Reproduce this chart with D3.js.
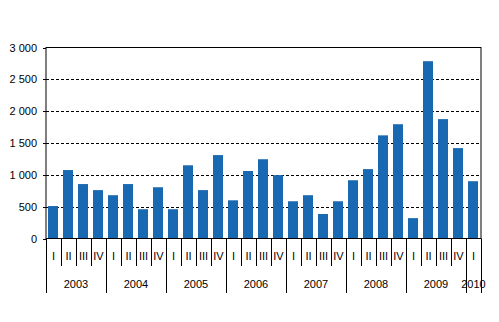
<!DOCTYPE html>
<html><head><meta charset="utf-8">
<script src="https://d3js.org/d3.v7.min.js"></script>
<style>body{margin:0;background:#fff}svg{display:block}text{font-family:"Liberation Sans",Arial,sans-serif;font-size:11px;fill:#000}</style>
</head><body>
<script>
const years = ["2003","2004","2005","2006","2007","2008","2009","2010"];
const quarters = ["I","II","III","IV"];
const values = [510,1075,855,760,680,855,460,805,460,1150,760,1310,600,1060,1245,995,585,680,385,585,915,1090,1620,1795,320,2785,1875,1420,900];
const yTicks = [0,500,1000,1500,2000,2500,3000];

const W=499,H=322, L=46, R=481, T=47.5, B=238.5;
const cats = values.map((v,i)=>({q:quarters[i%4], y:years[Math.floor(i/4)], i, v}));
const svg=d3.select("body").append("svg").attr("width",W).attr("height",H);
const x=d3.scaleBand().domain(cats.map(d=>d.i)).range([L,R]).paddingInner(0.33).paddingOuter(0.165);
const xs=d3.scaleLinear().domain([0,cats.length]).range([L,R]);
const y=d3.scaleLinear().domain([0,3000]).range([B,T]);
const fmt=d=>d>=1000?d3.format(",")(d).replace(",","\u00a0"):String(d);

// gridlines
svg.append("g").selectAll("line").data(yTicks.filter(t=>t>0&&t<3000)).join("line")
  .attr("x1",L).attr("x2",R).attr("y1",d=>Math.round(y(d))+0.5).attr("y2",d=>Math.round(y(d))+0.5)
  .attr("stroke","#000").attr("stroke-dasharray","3,2");
// bars
svg.append("g").selectAll("rect").data(cats).join("rect")
  .attr("x",d=>Math.round(x(d.i))).attr("width",Math.round(x.bandwidth()))
  .attr("y",d=>y(d.v)).attr("height",d=>B-y(d.v)).attr("fill","#1868b2");
// frame
svg.append("rect").attr("x",L).attr("y",T).attr("width",R-L).attr("height",B-T)
  .attr("fill","none").attr("stroke","#000").attr("stroke-width",1);
// y axis
const ya=svg.append("g").attr("transform",`translate(${L},0)`)
  .call(d3.axisLeft(y).tickValues(yTicks).tickSize(3).tickPadding(6).tickFormat(fmt));
ya.select(".domain").remove();
ya.selectAll("line").attr("stroke","#000");
ya.selectAll("text").style("font-family","'Liberation Sans',Arial,sans-serif").style("font-size","11px").attr("fill","#000");
ya.selectAll(".tick").attr("transform",d=>`translate(0,${Math.round(y(d))+0.5})`);

// x category ticks
const bounds=d3.range(cats.length+1);
svg.append("g").selectAll("line").data(bounds).join("line")
  .attr("x1",d=>Math.round(xs(d))+0.5).attr("x2",d=>Math.round(xs(d))+0.5)
  .attr("y1",B).attr("y2",d=>(d%4===0||d===cats.length)?293:266)
  .attr("stroke","#000");
svg.append("g").selectAll("text").data(cats).join("text")
  .attr("x",d=>xs(d.i+0.5)).attr("y",260).attr("text-anchor","middle").text(d=>d.q);
svg.append("g").selectAll("text").data(years).join("text")
  .attr("x",(d,i)=>{const s=i*4,e=Math.min(s+4,cats.length);return xs((s+e)/2);})
  .attr("y",288).attr("text-anchor","middle").text(d=>d);
</script>
</body></html>
